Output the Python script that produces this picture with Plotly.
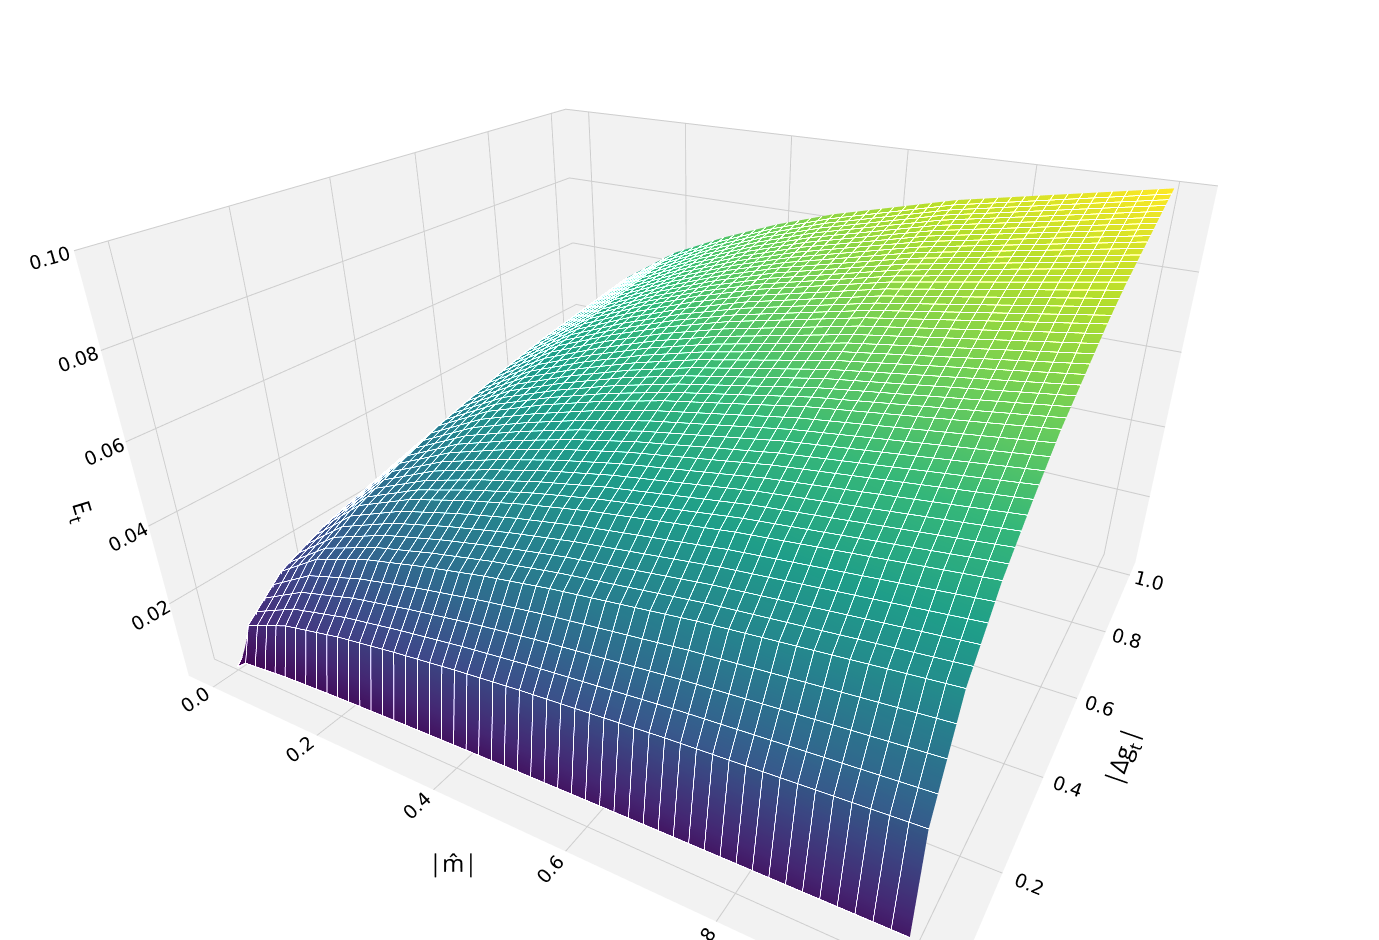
import numpy as np
import plotly.graph_objects as go

m_vals = [0.0, 0.02, 0.1, 0.2, 0.3, 0.4, 0.5, 0.6, 0.7, 0.8, 0.9, 1.0]
g_vals = [0.0, 0.02, 0.1, 0.2, 0.3, 0.4, 0.5, 0.6, 0.7, 0.8, 0.9, 1.0]
# profiles (relative height along each axis)
m_profile = [0.12, 0.40, 0.55, 0.65, 0.72, 0.78, 0.83, 0.87, 0.91, 0.94, 0.97, 1.00]
g_profile = [0.08, 0.30, 0.50, 0.62, 0.70, 0.77, 0.82, 0.87, 0.91, 0.94, 0.97, 1.00]
z_max = 0.1

Z = z_max * np.outer(g_profile, m_profile)

fig = go.Figure(go.Surface(
    x=m_vals, y=g_vals, z=Z, colorscale="Viridis", showscale=False,
    contours=dict(x=dict(show=True, color="rgba(255,255,255,0.12)", start=0, end=1, size=0.02, highlight=False),
                  y=dict(show=True, color="rgba(255,255,255,0.12)", start=0, end=1, size=0.02, highlight=False)),
    lighting=dict(ambient=0.95, diffuse=0.2, specular=0.0),
))

ax = dict(backgroundcolor="rgb(242,242,242)", gridcolor="rgb(205,205,205)", showbackground=True,
          zeroline=False, tickfont=dict(size=15, family="DejaVu Sans", color="black"))
fig.update_layout(
    width=1379, height=940, paper_bgcolor="white", margin=dict(l=0, r=0, t=0, b=0),
    scene=dict(
        xaxis=dict(ax, title=dict(text="|m̂|", font=dict(size=24, color="black")), range=[-0.05, 1.05],
                   tickvals=[0, 0.2, 0.4, 0.6, 0.8, 1.0], ticktext=["0.0", "0.2", "0.4", "0.6", "0.8", "1.0"]),
        yaxis=dict(ax, title=dict(text="|Δg<sub>t</sub>|", font=dict(size=24, color="black")), range=[-0.05, 1.05],
                   tickvals=[0, 0.2, 0.4, 0.6, 0.8, 1.0], ticktext=["0.0", "0.2", "0.4", "0.6", "0.8", "1.0"]),
        zaxis=dict(ax, title=dict(text="E<sub>t</sub>", font=dict(size=24, color="black")), range=[0.0, 0.1],
                   tickvals=[0.02, 0.04, 0.06, 0.08, 0.10], ticktext=["0.02", "0.04", "0.06", "0.08", "0.10"]),
        aspectmode="manual", aspectratio=dict(x=1.25, y=1.1, z=0.7),
        camera=dict(eye=dict(x=0.8, y=-1.4, z=0.8), center=dict(x=0, y=0, z=-0.08)),
    ),
)
fig.write_html("out.html")
